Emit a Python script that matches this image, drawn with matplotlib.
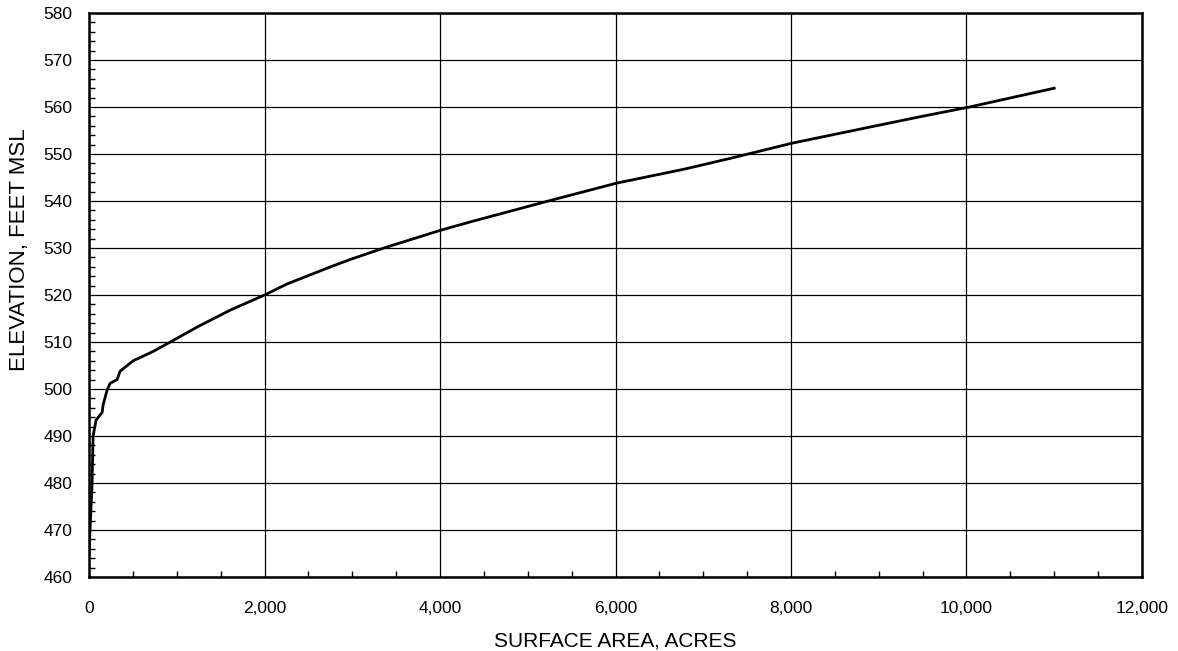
import matplotlib.pyplot as plt
from matplotlib.ticker import MultipleLocator, FuncFormatter

plt.rcParams['font.family'] = ['Liberation Sans', 'DejaVu Sans']

# surface area (acres) vs elevation (ft msl)
area = [0, 11, 34, 46, 80, 149, 160, 206, 240, 320, 354, 503, 731, 926, 1234,
        1611, 2000, 2263, 2754, 2983, 3360, 4011, 4354, 5234, 6011, 6789,
        7291, 7554, 8011, 8891, 9463, 10034, 11000]
elev = [465, 470, 479.6, 490, 493.4, 495, 496.6, 499.8, 501.2, 502, 503.8,
        506, 508, 510, 513.2, 516.8, 520, 522.4, 526, 527.6, 530, 533.8, 535.6,
        540, 543.8, 546.8, 549, 550.2, 552.3, 555.7, 557.9, 560, 564]

fig = plt.figure(figsize=(11.78, 6.51), dpi=100)
ax = fig.add_axes([0.0756, 0.1137, 0.8938, 0.8663])

ax.plot(area, elev, color='black', linewidth=2.0)

ax.set_xlim(0, 12000)
ax.set_ylim(460, 580)
ax.xaxis.set_major_locator(MultipleLocator(2000))
ax.xaxis.set_minor_locator(MultipleLocator(500))
ax.yaxis.set_major_locator(MultipleLocator(10))
ax.yaxis.set_minor_locator(MultipleLocator(2))
ax.xaxis.set_major_formatter(FuncFormatter(lambda v, p: f'{v:,.0f}'))

ax.grid(True, which='major', color='black', linewidth=0.9)
ax.tick_params(which='both', direction='in', labelsize=12.5)
ax.tick_params(axis='y', which='major', length=0, pad=12)
ax.tick_params(axis='x', which='major', length=0, pad=17)
ax.tick_params(which='minor', length=4, width=1)
for s in ax.spines.values():
    s.set_linewidth(1.8)

ax.set_xlabel('SURFACE AREA, ACRES', fontsize=15, va='top')
ax.xaxis.set_label_coords(0.5, -0.097)
ax.set_ylabel('ELEVATION, FEET MSL', fontsize=16)
ax.yaxis.set_label_coords(-0.056, 0.58)

fig.savefig('out.png', dpi=100)
